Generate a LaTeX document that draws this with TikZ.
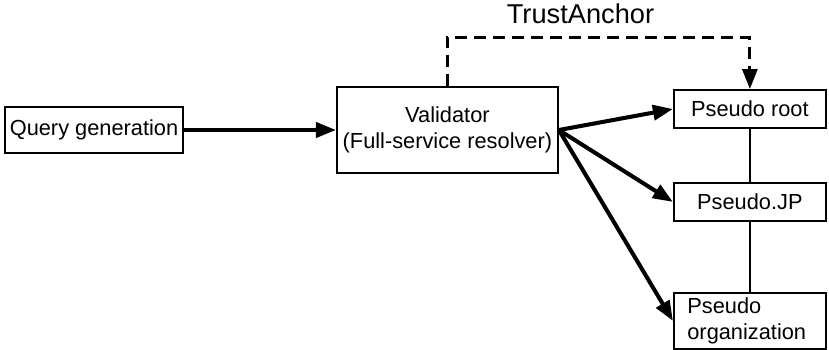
\documentclass[tikz,border=0pt]{standalone}
\usepackage{fontspec}
\setmainfont{Liberation Sans}
\usetikzlibrary{arrows.meta,positioning}
\tikzset{
  boite/.style={draw,line width=1.1pt,align=center,inner sep=2pt,
                font=\fontsize{12.4}{14.5}\selectfont},
  fleche/.style={-{Triangle[length=0.4cm,width=0.3cm]},line width=2.3pt},
  lien/.style={line width=0.9pt},
}
\begin{document}
\begin{tikzpicture}[node distance=1.1cm]
  \useasboundingbox (0,0) rectangle (16.58,6.98);
  \node[boite,minimum width=3.56cm,minimum height=0.92cm] (query) at (1.88,4.38) {Query generation};
  \node[boite,minimum width=4.42cm,minimum height=1.72cm,right=3.04cm of query] (val) {Validator\\(Full-service resolver)};
  \node[boite,minimum width=3.04cm,minimum height=0.76cm,right=2.28cm of val.east,yshift=0.42cm] (root) {Pseudo root};
  \node[boite,minimum width=3.04cm,minimum height=0.76cm,below=1.06cm of root] (jp) {Pseudo.JP};
  \node[boite,minimum width=3.04cm,minimum height=1.12cm,below=1.4cm of jp,align=left,text width=2.5cm] (org) {Pseudo\\organization};
  % requetes
  \draw[fleche] (query) -- (val);
  \foreach \v in {root,jp,org} \draw[fleche] (val.east) -- (\v.west);
  % hierarchie
  \draw[lien] (root) -- (jp) -- (org);
  % ancre de confiance
  \draw[line width=1.7pt,dash pattern=on 0.24cm off 0.14cm,-{Triangle[length=0.4cm,width=0.3cm]}]
    (val.north) -- ++(0,0.98) -| node[pos=0.22,above=0.12cm,font=\fontsize{15.5}{18}\selectfont] {TrustAnchor} (root.north);
\end{tikzpicture}
\end{document}
